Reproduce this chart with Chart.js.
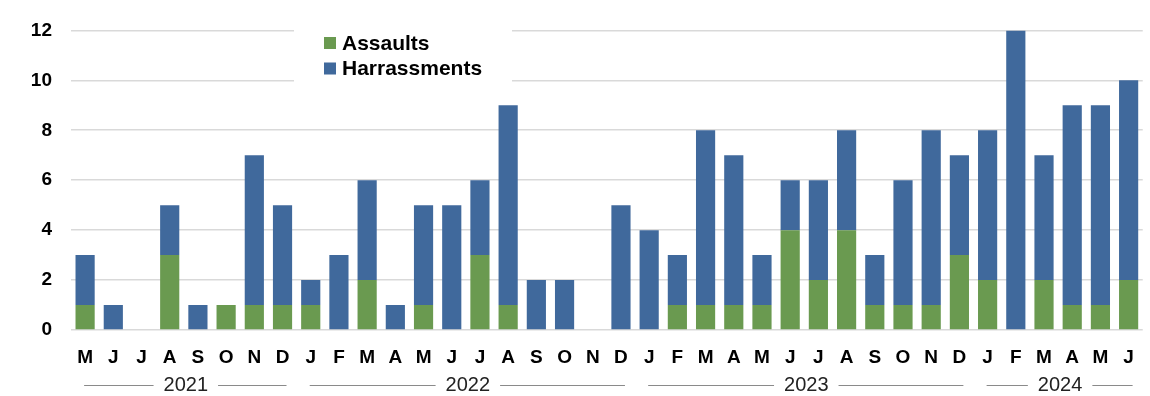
<!DOCTYPE html>
<html>
<head>
<meta charset="utf-8">
<script src="https://cdn.jsdelivr.net/npm/chart.js@4/dist/chart.umd.min.js"></script>
<style>
  html, body { margin: 0; padding: 0; background: #ffffff; }
  #wrap { width: 1150px; height: 396px; position: relative; }
</style>
</head>
<body>
<div id="wrap"><canvas id="c" width="1150" height="396"></canvas></div>
<script>
// Monthly incident counts, May 2021 – June 2024
const months = ['M','J','J','A','S','O','N','D',
                'J','F','M','A','M','J','J','A','S','O','N','D',
                'J','F','M','A','M','J','J','A','S','O','N','D',
                'J','F','M','A','M','J'];
const assaults    = [1,0,0,3,0,1,1,1,
                     1,0,2,0,1,0,3,1,0,0,0,0,
                     0,1,1,1,1,4,2,4,1,1,1,3,
                     2,0,2,1,1,2];
const harassments = [2,1,0,2,1,0,6,4,
                     1,3,4,1,4,5,3,8,2,2,0,5,
                     4,2,7,6,2,2,4,4,2,5,7,4,
                     6,12,5,8,8,8];
const years     = ['2021','2022','2023','2024'];
const yearSpans = [8, 12, 12, 6];
const yTicks    = [0, 2, 4, 6, 8, 10, 12];

const GREEN = '#6a9a50';
const BLUE  = '#40699c';
const FONT  = '"Liberation Sans", Arial, Helvetica, sans-serif';

// Legend drawn inside the plot on a white panel
const insetLegend = {
  id: 'insetLegend',
  afterDatasetsDraw(chart) {
    const ctx = chart.ctx;
    ctx.save();
    ctx.fillStyle = '#ffffff';
    ctx.fillRect(294, 18, 218, 70);
    const items = chart.data.datasets.map(d => ({ label: d.label, color: d.backgroundColor }));
    ctx.font = 'bold 21px ' + FONT;
    ctx.textBaseline = 'middle';
    ctx.textAlign = 'left';
    items.forEach((it, i) => {
      const y = 43 + i * 25.5;
      ctx.fillStyle = it.color;
      ctx.fillRect(324, y - 6, 12, 12);
      ctx.fillStyle = '#000000';
      ctx.fillText(it.label, 342, y + 1);
    });
    ctx.restore();
  }
};

// Year labels under the month ticks, flanked by rules
const yearRow = {
  id: 'yearRow',
  afterDraw(chart) {
    const ctx = chart.ctx;
    const x = chart.scales.x;
    const y = 385;
    ctx.save();
    ctx.font = '20px ' + FONT;
    ctx.textAlign = 'center';
    ctx.textBaseline = 'middle';
    let start = 0;
    years.forEach((yr, i) => {
      const end = start + yearSpans[i] - 1;
      const x0 = x.getPixelForValue(start) - 1;
      const x1 = Math.min(x.getPixelForValue(end) + 4, chart.width - 4);
      const cx = (x.getPixelForValue(start) + x.getPixelForValue(end)) / 2 + 2;
      const w = ctx.measureText(yr).width;
      ctx.fillStyle = '#222222';
      ctx.fillText(yr, cx, y);
      ctx.strokeStyle = '#8a8a8a';
      ctx.lineWidth = 1;
      ctx.beginPath();
      ctx.moveTo(x0, y + 0.5); ctx.lineTo(cx - w / 2 - 10, y + 0.5);
      ctx.moveTo(cx + w / 2 + 10, y + 0.5); ctx.lineTo(x1, y + 0.5);
      ctx.stroke();
      start = end + 1;
    });
    ctx.restore();
  }
};

new Chart(document.getElementById('c'), {
  type: 'bar',
  data: {
    labels: months,
    datasets: [
      { label: 'Assaults', data: assaults, backgroundColor: GREEN, borderWidth: 0 },
      { label: 'Harrassments', data: harassments, backgroundColor: BLUE, borderWidth: 0 }
    ]
  },
  options: {
    responsive: false,
    animation: false,
    devicePixelRatio: 1,
    layout: { padding: { top: 30, right: 7, left: 0, bottom: 0 } },
    datasets: { bar: { barPercentage: 0.68, categoryPercentage: 1.0 } },
    plugins: { legend: { display: false }, tooltip: { enabled: false } },
    scales: {
      x: {
        stacked: true,
        grid: { display: false, drawTicks: false },
        border: { display: false },
        ticks: { color: '#000000', font: { family: FONT, size: 19, weight: 'bold' }, padding: 16, maxRotation: 0, autoSkip: false },
        afterFit(scale) { scale.height = 66; }
      },
      y: {
        stacked: true,
        min: 0, max: 12,
        afterBuildTicks(scale) { scale.ticks = yTicks.map(v => ({ value: v })); },
        grid: { color: '#d9d9d9', lineWidth: 1.6, drawTicks: false },
        border: { display: false },
        ticks: { color: '#000000', font: { family: FONT, size: 19, weight: 'bold' }, padding: 19 },
        afterFit(scale) { scale.width = 71; }
      }
    }
  },
  plugins: [insetLegend, yearRow]
});
</script>
</body>
</html>
